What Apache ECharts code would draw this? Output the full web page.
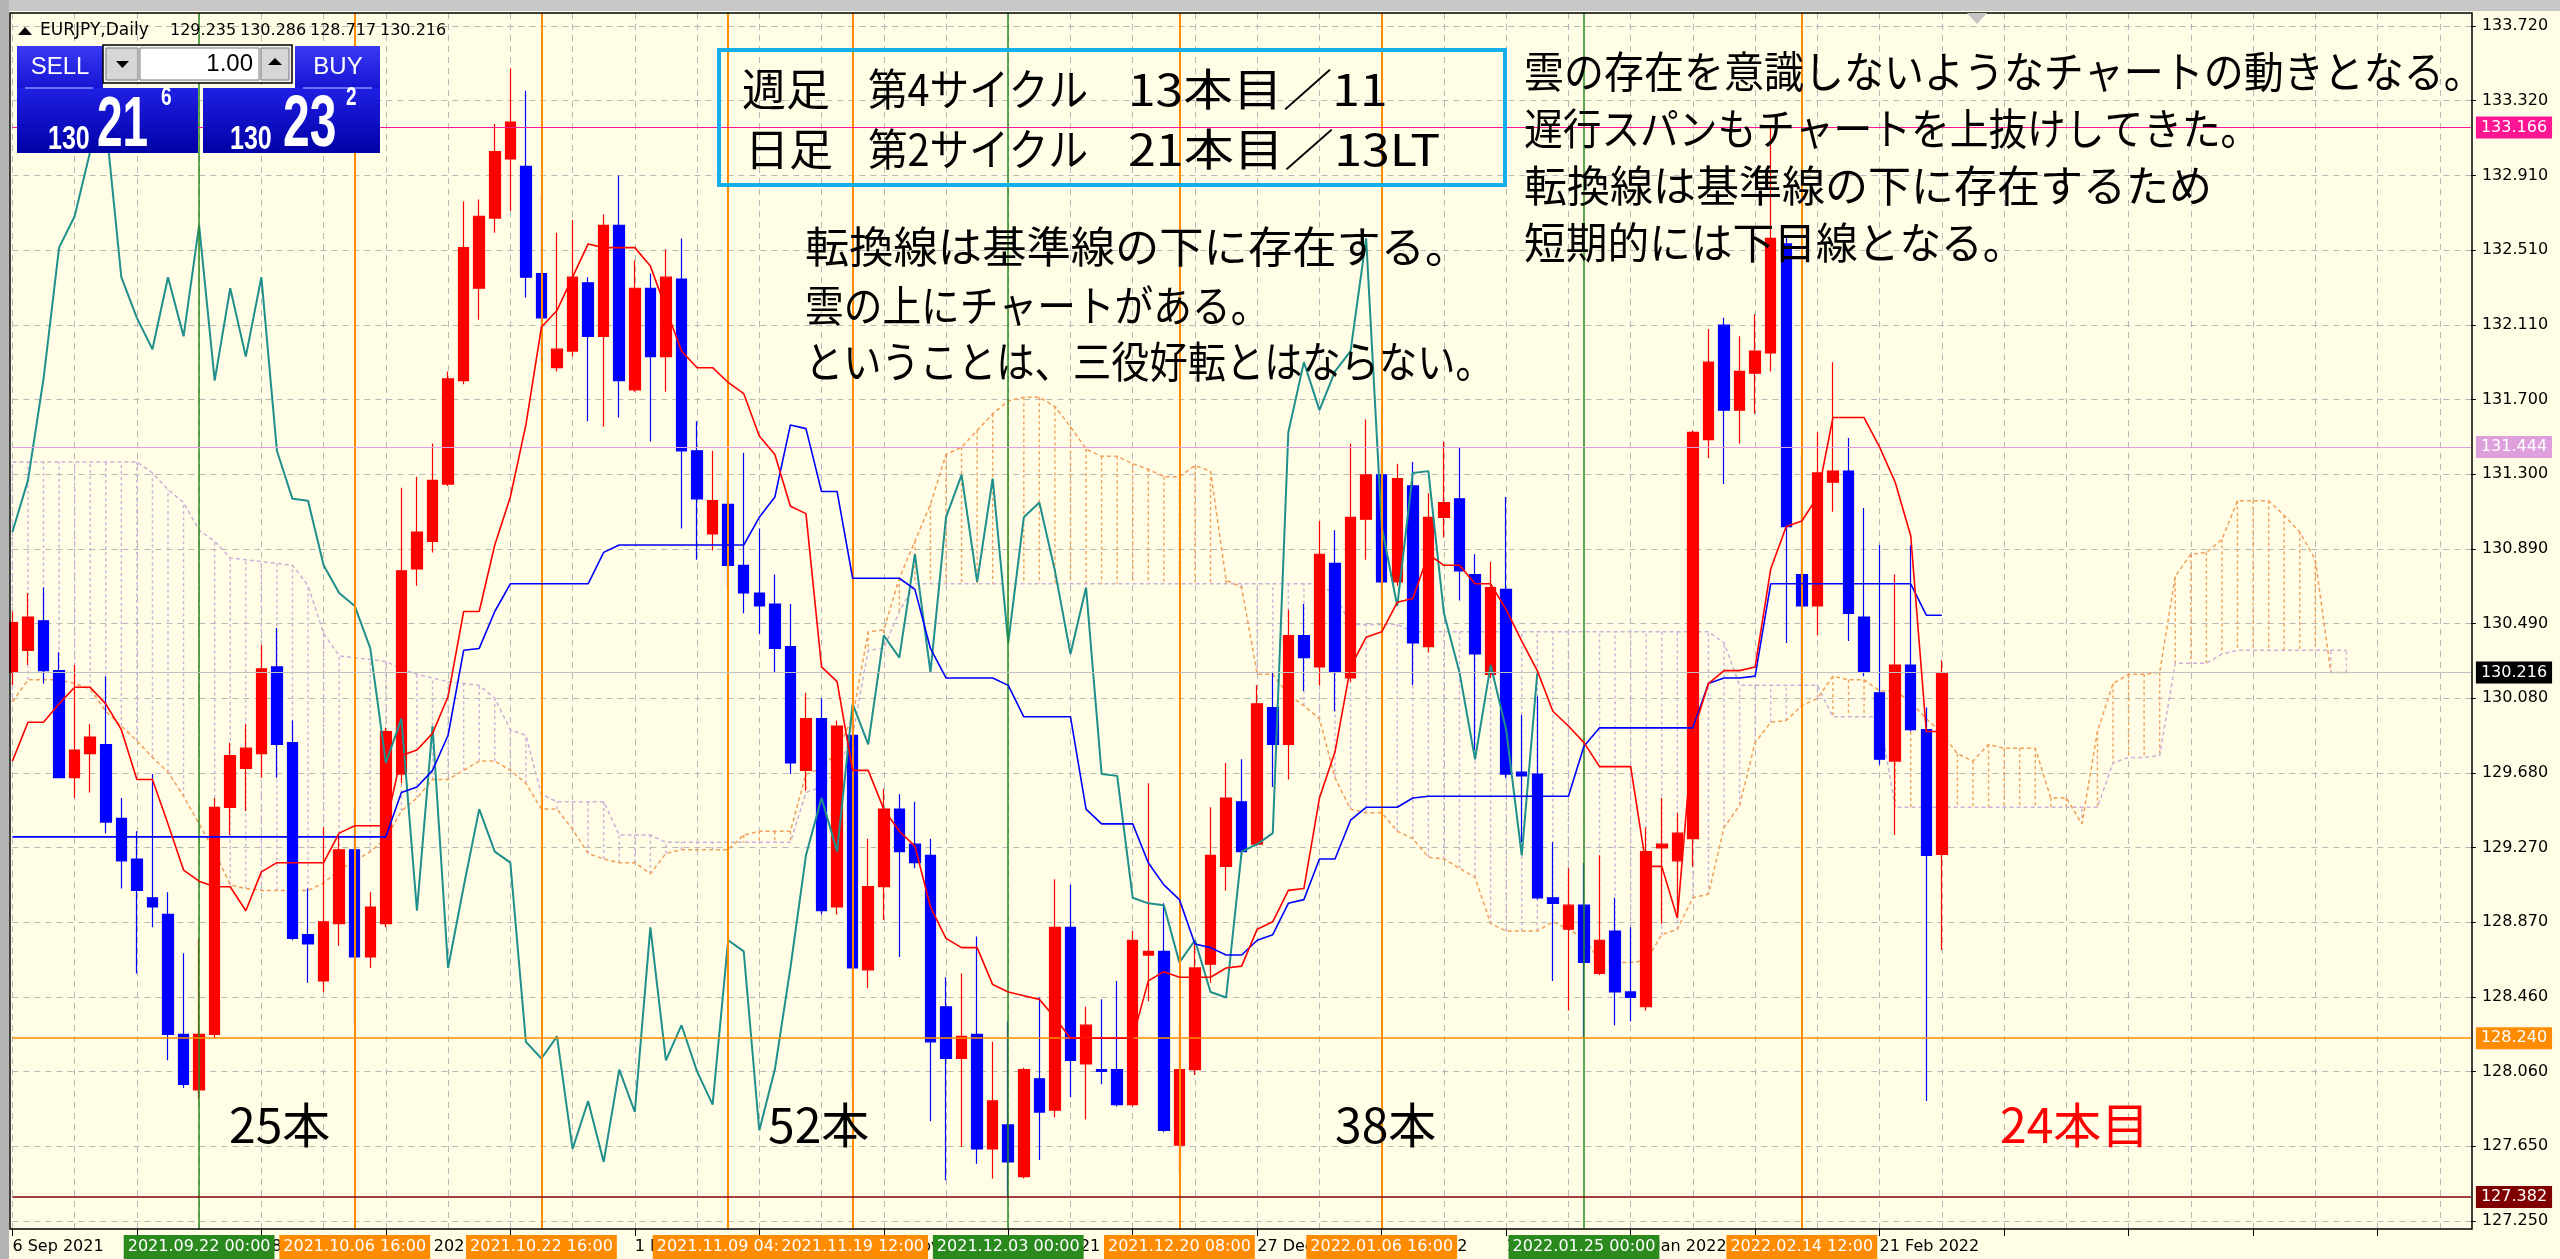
<!DOCTYPE html>
<html>
<head>
<meta charset="utf-8">
<title>EURJPY Daily</title>
<script src="https://cdn.jsdelivr.net/npm/echarts@6.0.0/dist/echarts.min.js"></script>
<style>
html,body{margin:0;padding:0;background:#FFFDE6;overflow:hidden;}
#chart{width:2560px;height:1259px;}
</style>
</head>
<body>
<div id="chart"></div>
<script>
// ---------------- data ----------------
const opens = [130.22,130.34,130.50,130.23,129.65,129.78,129.83,129.43,129.21,129.00,
128.91,128.26,127.96,128.26,129.49,129.70,129.78,130.25,129.84,128.80,
128.55,128.86,129.26,128.68,128.86,129.67,130.78,130.93,131.24,131.80,
132.30,132.68,133.00,132.96,132.38,131.87,131.96,132.33,132.04,132.64,
131.75,132.30,131.93,132.35,131.42,130.97,131.13,130.80,130.65,130.59,
130.36,129.69,129.97,128.95,129.88,128.61,129.06,129.48,129.29,129.23,
128.41,128.13,128.26,127.64,127.77,127.49,128.02,127.85,128.84,128.10,
128.07,128.07,127.88,128.69,128.71,127.66,128.07,128.64,129.17,129.52,
129.29,130.03,129.83,130.42,130.25,130.81,130.19,131.05,131.29,130.71,
131.23,130.36,131.06,131.16,130.75,130.21,130.67,129.68,129.67,129.00,
128.83,128.96,128.59,128.82,128.49,128.41,129.27,129.20,129.32,131.48,
132.10,131.64,131.84,131.95,132.54,130.75,130.58,131.25,131.31,130.52,
130.11,129.74,130.26,129.91,129.235];
const closes = [130.49,130.52,130.23,129.65,129.80,129.87,129.41,129.20,129.04,128.95,
128.26,127.99,128.26,129.49,129.77,129.81,130.24,129.83,128.78,128.75,
128.87,129.26,128.68,128.95,129.90,130.77,130.98,131.26,131.81,132.52,
132.69,133.04,133.20,132.36,132.14,131.97,132.36,132.04,132.64,131.80,
132.30,131.93,132.36,131.42,131.16,131.15,130.80,130.65,130.58,130.35,
129.73,129.97,128.93,129.93,128.62,129.06,129.48,129.25,129.19,128.22,
128.13,128.25,127.64,127.90,127.57,128.07,127.84,128.84,128.12,128.31,
128.06,127.88,128.77,128.71,127.74,128.07,128.62,129.23,129.54,129.25,
130.05,129.83,130.42,130.30,130.86,130.22,131.06,131.29,130.71,131.27,
130.38,131.06,131.14,130.77,130.32,130.68,129.67,129.66,129.00,128.97,
128.96,128.65,128.77,128.49,128.46,129.25,129.29,129.35,131.52,131.90,
131.64,131.85,131.96,132.57,131.01,130.58,131.30,131.31,130.54,130.22,
129.75,130.26,129.91,129.23,130.216];
const lows = [130.15,130.26,130.16,129.65,129.54,129.57,129.35,129.05,128.59,128.84,
128.12,127.97,127.91,128.24,129.34,129.47,129.65,129.65,128.77,128.54,
128.49,128.74,128.32,128.62,128.84,129.62,130.69,130.87,131.23,131.78,
132.13,132.60,132.72,132.25,131.90,131.85,131.93,131.58,131.55,131.60,
131.74,131.47,131.74,131.00,130.83,130.88,130.67,130.54,130.43,130.22,
129.67,129.58,128.91,128.91,127.96,128.51,128.88,128.68,129.16,127.79,
127.47,127.65,127.56,127.48,127.382,127.48,127.58,127.81,127.92,127.80,
127.99,127.87,127.87,128.44,127.73,127.51,128.04,128.54,129.04,129.22,
129.28,129.60,129.64,130.12,130.15,130.01,130.17,130.83,130.62,130.69,
130.15,130.33,130.95,130.61,129.80,130.19,129.65,129.30,128.99,128.55,
128.39,128.24,128.58,128.31,128.33,128.39,128.86,128.92,129.17,131.38,
131.24,131.46,131.62,131.85,130.38,130.03,130.42,131.09,130.39,130.20,
129.72,129.34,129.90,127.90,128.717];
const highs = [130.55,130.65,130.68,130.33,130.26,129.94,130.20,129.54,129.36,129.67,
129.03,128.70,128.78,129.54,129.84,129.94,130.37,130.46,129.96,129.05,
129.38,129.34,129.49,129.03,129.92,131.22,131.28,131.46,131.85,132.77,
132.78,133.19,133.49,133.37,132.81,132.60,132.67,132.36,132.70,132.91,
132.45,132.38,132.51,132.57,131.58,131.42,131.26,131.41,131.00,130.75,
130.59,130.11,130.08,129.96,129.99,129.32,129.59,129.56,129.52,129.32,
128.57,128.59,128.79,128.22,128.33,128.08,128.46,129.10,129.07,128.41,
128.45,128.55,128.82,129.62,128.97,128.31,128.77,129.49,129.73,129.75,
130.15,130.22,130.56,130.59,131.04,130.99,131.46,131.59,131.41,131.35,
131.36,131.19,131.47,131.44,130.86,130.82,131.17,129.99,130.09,129.30,
129.16,129.19,129.23,129.00,128.84,129.38,129.54,129.46,131.53,132.08,
132.14,132.04,132.16,133.166,132.58,131.39,131.52,131.90,131.49,131.11,
130.91,130.75,130.91,130.03,130.286];

// Ichimoku lines
const tenkan = [129.74,129.95,129.95,130.05,130.14,130.14,130.05,129.91,129.64,129.64,
129.40,129.15,129.09,129.06,129.06,128.93,129.14,129.19,129.19,129.19,
129.19,129.35,129.39,129.39,129.39,129.77,129.80,129.89,130.09,130.55,
130.55,130.91,131.17,131.56,132.09,132.18,132.36,132.54,132.52,132.52,
132.52,132.42,132.19,131.96,131.87,131.87,131.79,131.73,131.50,131.40,
131.12,131.08,130.25,130.17,129.69,129.69,129.48,129.36,129.28,128.95,
128.78,128.73,128.73,128.53,128.49,128.47,128.45,128.35,128.24,128.24,
128.24,128.24,128.24,128.55,128.60,128.57,128.57,128.57,128.62,128.63,
128.83,128.87,129.04,129.05,129.54,129.79,130.25,130.41,130.44,130.60,
130.62,130.86,130.80,130.80,130.70,130.70,130.56,130.39,130.23,130.01,
129.93,129.84,129.71,129.71,129.71,129.17,129.17,128.89,129.89,130.16,
130.23,130.23,130.25,130.78,131.01,131.04,131.17,131.60,131.60,131.60,
131.44,131.25,130.96,129.90,129.90];
const kijun = [129.33,129.33,129.33,129.33,129.33,129.33,129.33,129.33,129.33,129.33,
129.33,129.33,129.33,129.33,129.33,129.33,129.33,129.33,129.33,129.33,
129.33,129.33,129.33,129.33,129.33,129.57,129.60,129.69,129.88,130.34,
130.35,130.55,130.70,130.70,130.70,130.70,130.70,130.70,130.87,130.91,
130.91,130.91,130.91,130.91,130.91,130.91,130.91,130.91,131.06,131.17,
131.56,131.54,131.20,131.20,130.73,130.73,130.73,130.73,130.67,130.35,
130.19,130.19,130.19,130.19,130.15,129.98,129.98,129.98,129.98,129.48,
129.40,129.40,129.40,129.19,129.07,128.99,128.75,128.73,128.69,128.69,
128.77,128.80,128.97,128.99,129.21,129.21,129.42,129.49,129.49,129.49,
129.54,129.55,129.55,129.55,129.55,129.55,129.55,129.55,129.55,129.55,
129.55,129.82,129.92,129.92,129.92,129.92,129.92,129.92,129.92,130.16,
130.19,130.19,130.20,130.70,130.70,130.70,130.70,130.70,130.70,130.70,
130.70,130.70,130.70,130.53,130.53];
const senkouA = [130.06,130.18,130.18,130.18,130.16,130.13,130.01,129.93,129.85,129.76,
129.68,129.55,129.40,129.25,129.07,129.05,129.04,129.04,129.04,129.04,
129.08,129.15,129.20,129.25,129.32,129.47,129.54,129.64,129.64,129.69,
129.74,129.74,129.69,129.62,129.48,129.48,129.37,129.24,129.21,129.19,
129.19,129.13,129.24,129.26,129.26,129.26,129.26,129.34,129.36,129.36,
129.36,129.67,129.70,129.79,129.98,130.44,130.45,130.73,130.93,131.13,
131.40,131.44,131.53,131.62,131.69,131.71,131.71,131.66,131.55,131.43,
131.39,131.39,131.35,131.32,131.28,131.28,131.34,131.31,130.72,130.68,
130.21,130.21,130.10,130.04,129.97,129.65,129.48,129.46,129.46,129.36,
129.32,129.22,129.21,129.16,129.11,128.86,128.82,128.82,128.82,128.87,
128.83,128.78,128.66,128.65,128.65,128.66,128.80,128.83,129.00,129.02,
129.38,129.50,129.84,129.95,129.96,130.04,130.08,130.20,130.18,130.18,
130.12,130.12,130.06,129.97,129.89,129.78,129.74,129.83,129.81,129.81,
129.81,129.54,129.54,129.40,129.90,130.16,130.21,130.21,130.22,130.74,
130.86,130.87,130.94,131.15,131.15,131.15,131.07,130.98,130.83,130.22,
130.22];
const senkouB = [131.36,131.36,131.36,131.36,131.36,131.36,131.36,131.36,131.36,131.30,
131.21,131.14,130.99,130.93,130.84,130.83,130.82,130.81,130.80,130.69,
130.43,130.31,130.30,130.29,130.28,130.24,130.21,130.19,130.17,130.16,
130.15,130.08,129.91,129.88,129.56,129.52,129.52,129.52,129.52,129.34,
129.34,129.34,129.30,129.30,129.30,129.30,129.30,129.30,129.30,129.30,
129.30,129.57,129.60,129.69,129.88,130.34,130.35,130.55,130.70,130.70,
130.70,130.70,130.70,130.70,130.70,130.70,130.70,130.70,130.70,130.70,
130.70,130.70,130.70,130.70,130.70,130.70,130.70,130.70,130.70,130.70,
130.70,130.70,130.70,130.70,130.70,130.64,130.48,130.48,130.48,130.48,
130.44,130.44,130.44,130.44,130.44,130.44,130.44,130.44,130.44,130.44,
130.44,130.44,130.44,130.44,130.44,130.44,130.44,130.44,130.44,130.44,
130.38,130.15,130.15,130.15,130.15,130.15,130.15,129.98,129.98,129.98,
129.98,129.49,129.49,129.49,129.49,129.49,129.49,129.49,129.49,129.49,
129.49,129.49,129.49,129.49,129.49,129.73,129.76,129.76,129.77,130.27,
130.27,130.27,130.32,130.34,130.34,130.34,130.34,130.34,130.34,130.34,
130.34];
// lagging span: the closes drawn 26 bars back
const chikou = closes.slice(26);

const yTickLabels = ['127.250','127.650','128.060','128.460','128.870','129.270','129.680','130.080',
  '130.490','130.890','131.300','131.700','132.110','132.510','132.910','133.320','133.720'];
const xTickLabels = ['6 Sep 2021','16 Sep 2021','28 Sep 2021','8 Oct 2021','20 Oct 2021','1 Nov 2021',
  '11 Nov 2021','23 Nov 2021','3 Dec 2021','15 Dec 2021','27 Dec 2021','6 Jan 2022','18 Jan 2022',
  '28 Jan 2022','9 Feb 2022','21 Feb 2022'];

const vLineBars = [12, 22, 34, 46, 54, 64, 75, 88, 101, 115];
const vLineLabels = ['2021.09.22 00:00','2021.10.06 16:00','2021.10.22 16:00','2021.11.09 04:00',
  '2021.11.19 12:00','2021.12.03 00:00','2021.12.20 08:00','2022.01.06 16:00','2022.01.25 00:00','2022.02.14 12:00'];
const vLineKinds = ['g','o','o','o','o','g','o','o','g','o'];

const hLineValues = [133.166, 131.444, 130.216, 128.240, 127.382];
const hLineLabels = ['133.166','131.444','130.216','128.240','127.382'];

const quote = ['129.235','130.286','128.717','130.216'];

// time slots: trading days from 6 Sep 2021 (candles + future cloud)
const categories = [];
(function(){
  const d = new Date(Date.UTC(2021, 8, 6));
  while (categories.length < 159) {
    const w = d.getUTCDay();
    if (w !== 0 && w !== 6) categories.push(d.toISOString().slice(0, 10));
    d.setUTCDate(d.getUTCDate() + 1);
  }
})();

// ---------------- styling ----------------
const BG = '#FFFDE6';
const GRIDC = '#B8B8B8';
const UI = '"DejaVu Sans", sans-serif';
const JP = '"Noto Sans CJK JP", sans-serif';
const LS = '"Liberation Sans", sans-serif';
const Y_MIN = 127.25, Y_MAX = 133.72, Y_STEP = (Y_MAX - Y_MIN) / 16;
const vColor = {g: '#2A8A1E', o: '#FF8C00'};
const hLineColors = ['#FF1493', '#DDA0DD', '#C0C0C0', '#FF8C00', '#800000'];
const hBoxColors  = ['#FF1493', '#DDA0DD', '#000000', '#FF8C00', '#800000'];

const chart = echarts.init(document.getElementById('chart'), null, {renderer: 'canvas'});

const candleData = opens.map((o, i) => [o, closes[i], lows[i], highs[i]]);
const cloudData = senkouA.map((a, i) => [i, a, senkouB[i]]);

function blue(top, bottom) {
  return new echarts.graphic.LinearGradient(0, 0, 0, 1, [{offset: 0, color: top}, {offset: 1, color: bottom}]);
}
function txt(x, y, s, o) {
  return Object.assign({type: 'text', x: x, y: y, z: 100, silent: true,
    style: Object.assign({text: s, fill: '#000', align: 'left', verticalAlign: 'middle',
      fontSize: 15, fontFamily: UI}, o && o.style || {})},
    o && o.el || {});
}

const graphics = [
  // window chrome
  {type: 'rect', z: 99, silent: true, shape: {x: 0, y: 0, width: 2560, height: 11}, style: {fill: '#C8C8C8'}},
  {type: 'rect', z: 99, silent: true, shape: {x: 0, y: 0, width: 9, height: 1259}, style: {fill: '#B4B4B4'}},
  // plot frame
  {type: 'rect', z: 98, silent: true, shape: {x: 10, y: 13, width: 2462, height: 1216},
    style: {fill: 'rgba(0,0,0,0)', stroke: '#000', lineWidth: 1.5}},
  // shift marker
  {type: 'polygon', z: 99, silent: true, shape: {points: [[1967, 13], [1987, 13], [1977, 24]]}, style: {fill: '#C4C4C4'}},
  // header
  {type: 'polygon', z: 100, silent: true, shape: {points: [[18, 35], [32, 35], [25, 27]]}, style: {fill: '#000'}},
  txt(40, 31, 'EURJPY,Daily', {style: {fontSize: 17}}),
  txt(170, 31, quote[0], {style: {fontSize: 16}}),
  txt(240, 31, quote[1], {style: {fontSize: 16}}),
  txt(310, 31, quote[2], {style: {fontSize: 16}}),
  txt(380, 31, quote[3], {style: {fontSize: 16}}),
  // one-click trading panel
  {type: 'rect', z: 100, silent: true, shape: {x: 17, y: 46, width: 86, height: 43}, style: {fill: blue('#3A3AF4', '#1414D2')}},
  {type: 'rect', z: 100, silent: true, shape: {x: 17, y: 88, width: 181, height: 65}, style: {fill: blue('#2020E4', '#0000A6')}},
  {type: 'rect', z: 100, silent: true, shape: {x: 295, y: 46, width: 85, height: 43}, style: {fill: blue('#3A3AF4', '#1414D2')}},
  {type: 'rect', z: 100, silent: true, shape: {x: 203, y: 88, width: 177, height: 65}, style: {fill: blue('#2020E4', '#0000A6')}},
  {type: 'line', z: 101, silent: true, shape: {x1: 25, y1: 88, x2: 93, y2: 88}, style: {stroke: '#8C8CFF', lineWidth: 1.5}},
  {type: 'line', z: 101, silent: true, shape: {x1: 303, y1: 88, x2: 372, y2: 88}, style: {stroke: '#8C8CFF', lineWidth: 1.5}},
  {type: 'rect', z: 100, silent: true, shape: {x: 103, y: 45, width: 189, height: 38}, style: {fill: '#EFEFEF', stroke: '#000', lineWidth: 1.5}},
  {type: 'rect', z: 101, silent: true, shape: {x: 106, y: 48, width: 32, height: 32}, style: {fill: '#D6D6D6', stroke: '#7A7A7A'}},
  {type: 'rect', z: 101, silent: true, shape: {x: 140, y: 48, width: 119, height: 32}, style: {fill: '#FFFFFF', stroke: '#7A7A7A'}},
  {type: 'rect', z: 101, silent: true, shape: {x: 261, y: 48, width: 28, height: 32}, style: {fill: '#D6D6D6', stroke: '#7A7A7A'}},
  {type: 'polygon', z: 102, silent: true, shape: {points: [[116, 61], [129, 61], [122.5, 68]]}, style: {fill: '#000'}},
  {type: 'polygon', z: 102, silent: true, shape: {points: [[268, 65], [282, 65], [275, 58]]}, style: {fill: '#000'}},
  txt(253, 64, '1.00', {style: {align: 'right', fontSize: 24, fontFamily: LS}, el: {z: 102}}),
  txt(60, 67, 'SELL', {style: {align: 'center', fontSize: 24, fill: '#fff', fontFamily: LS}, el: {z: 102}}),
  txt(338, 67, 'BUY', {style: {align: 'center', fontSize: 24, fill: '#fff', fontFamily: LS}, el: {z: 102}}),
  txt(48, 140, '130', {style: {fontSize: 25, fill: '#fff', fontWeight: 'bold', fontFamily: LS}, el: {z: 102, scaleY: 1.3}}),
  txt(97, 126, '21', {style: {fontSize: 46, fill: '#fff', fontWeight: 'bold', fontFamily: LS}, el: {z: 102, scaleY: 1.55}}),
  txt(161, 98, '6', {style: {fontSize: 19, fill: '#fff', fontWeight: 'bold', fontFamily: LS}, el: {z: 102, scaleY: 1.4}}),
  txt(230, 140, '130', {style: {fontSize: 25, fill: '#fff', fontWeight: 'bold', fontFamily: LS}, el: {z: 102, scaleY: 1.3}}),
  txt(283, 126, '23', {style: {fontSize: 48, fill: '#fff', fontWeight: 'bold', fontFamily: LS}, el: {z: 102, scaleY: 1.5}}),
  txt(346, 98, '2', {style: {fontSize: 19, fill: '#fff', fontWeight: 'bold', fontFamily: LS}, el: {z: 102, scaleY: 1.4}}),
  // cycle box
  {type: 'rect', z: 100, silent: true, shape: {x: 719, y: 50, width: 786, height: 135},
    style: {fill: 'rgba(0,0,0,0)', stroke: '#14AEEA', lineWidth: 4}},
  txt(742, 89, '週足', {style: {fontSize: 44, fontFamily: JP}}),
  txt(868, 89, '第4サイクル', {style: {fontSize: 44, fontFamily: JP}, el: {scaleX: 0.9}}),
  txt(1128, 89, '13本目／11', {style: {fontSize: 44, fontFamily: JP}, el: {scaleX: 1.13}}),
  txt(745, 149, '日足', {style: {fontSize: 44, fontFamily: JP}}),
  txt(868, 149, '第2サイクル', {style: {fontSize: 44, fontFamily: JP}, el: {scaleX: 0.9}}),
  txt(1128, 149, '21本目／13LT', {style: {fontSize: 44, fontFamily: JP}, el: {scaleX: 1.14}}),
  // comments
  txt(805, 247, '転換線は基準線の下に存在する。', {style: {fontSize: 43, fontFamily: JP}, el: {scaleX: 1.03}}),
  txt(805, 306, '雲の上にチャートがある。', {style: {fontSize: 43, fontFamily: JP}, el: {scaleX: 0.9}}),
  txt(805, 362, 'ということは、三役好転とはならない。', {style: {fontSize: 43, fontFamily: JP}, el: {scaleX: 0.89}}),
  txt(1524, 72, '雲の存在を意識しないようなチャートの動きとなる。', {style: {fontSize: 43, fontFamily: JP}, el: {scaleX: 0.93}}),
  txt(1524, 129, '遅行スパンもチャートを上抜けしてきた。', {style: {fontSize: 43, fontFamily: JP}, el: {scaleX: 0.9}}),
  txt(1524, 186, '転換線は基準線の下に存在するため', {style: {fontSize: 43, fontFamily: JP}, el: {scaleX: 1.0}}),
  txt(1524, 243, '短期的には下目線となる。', {style: {fontSize: 43, fontFamily: JP}, el: {scaleX: 0.97}}),
  txt(229, 1125, '25本', {style: {fontSize: 48, fontFamily: JP}}),
  txt(768, 1125, '52本', {style: {fontSize: 48, fontFamily: JP}}),
  txt(1335, 1125, '38本', {style: {fontSize: 48, fontFamily: JP}}),
  txt(2000, 1125, '24本目', {style: {fontSize: 48, fontFamily: JP, fill: '#FF0000'}})
];

const option = {
  animation: false,
  backgroundColor: BG,
  tooltip: {show: false},
  grid: [
    {left: 12.4, right: 89.1, top: 26, bottom: 38, outerBoundsMode: 'none', containLabel: false},
    {left: 12.4, right: 89.1, top: 13, bottom: 30, outerBoundsMode: 'none', containLabel: false}
  ],
  xAxis: [
    {type: 'category', gridIndex: 0, data: categories, boundaryGap: false, show: false,
      axisLine: {show: false}, axisTick: {show: false}, axisLabel: {show: false}, splitLine: {show: false}},
    {type: 'category', gridIndex: 1, data: categories, boundaryGap: false,
      axisLine: {show: false},
      axisTick: {show: true, interval: 7, length: 7, inside: false, lineStyle: {color: '#000', width: 1}},
      axisLabel: {show: true, interval: 7, align: 'left', margin: 10, color: '#000', fontSize: 16, fontFamily: UI,
        formatter: function (v, i) { return (i % 8 === 0 && xTickLabels[i / 8]) ? xTickLabels[i / 8] : ''; }},
      splitLine: {show: true, interval: 3, lineStyle: {color: GRIDC, width: 1, type: [6, 5]}}}
  ],
  yAxis: [
    {type: 'value', gridIndex: 0, position: 'right', min: Y_MIN, max: Y_MAX, interval: Y_STEP, scale: true,
      axisLine: {show: false},
      axisTick: {show: true, length: 5, lineStyle: {color: '#000'}},
      axisLabel: {margin: 11, color: '#000', fontSize: 16, fontFamily: UI,
        formatter: function (v) { const k = Math.round((v - Y_MIN) / Y_STEP); return yTickLabels[k] || ''; }},
      splitLine: {show: true, lineStyle: {color: GRIDC, width: 1, type: [6, 5]}}},
    {type: 'value', gridIndex: 1, min: 0, max: 1, show: false}
  ],
  graphic: {elements: graphics},
  series: [
    {
      name: 'kumo', type: 'custom', xAxisIndex: 0, yAxisIndex: 0, z: 1, silent: true,
      data: cloudData, encode: {x: 0, y: [1, 2]},
      renderItem: function (params, api) {
        const i = api.value(0), a = api.value(1), b = api.value(2);
        const p1 = api.coord([i, a]), p2 = api.coord([i, b]);
        return {type: 'line', shape: {x1: p1[0], y1: p1[1], x2: p2[0], y2: p2[1]},
          style: {stroke: a >= b ? '#F0A05A' : '#CDB0D8', lineWidth: 1.4, lineDash: [3, 3]}};
      }
    },
    {name: 'SenkouB', type: 'line', xAxisIndex: 0, yAxisIndex: 0, data: senkouB, symbol: 'none', z: 2, silent: true,
      lineStyle: {color: '#CDB0D8', width: 1.5, type: [4, 3]}},
    {name: 'SenkouA', type: 'line', xAxisIndex: 0, yAxisIndex: 0, data: senkouA, symbol: 'none', z: 2, silent: true,
      lineStyle: {color: '#F0A05A', width: 1.5, type: [4, 3]}},
    {name: 'vlines', type: 'line', xAxisIndex: 1, yAxisIndex: 1, data: [], z: 2, silent: true,
      markLine: {silent: true, symbol: ['none', 'none'], animation: false,
        data: vLineBars.map(function (b, k) {
          const c = vColor[vLineKinds[k]];
          return {xAxis: b, lineStyle: {color: c, width: vLineKinds[k] === 'o' ? 2 : 1.5, type: 'solid'},
            label: {show: true, position: 'start', distance: 6, formatter: vLineLabels[k], color: '#fff',
              backgroundColor: c, padding: [4, 4], fontSize: 16, fontFamily: UI}};
        })}},
    {name: 'hlines', type: 'line', xAxisIndex: 0, yAxisIndex: 0, data: [], z: 2, silent: true,
      markLine: {silent: true, symbol: ['none', 'none'], animation: false,
        data: hLineValues.map(function (v, k) {
          return {yAxis: v, lineStyle: {color: hLineColors[k], width: (k >= 3) ? 1.6 : 1.2, type: 'solid'},
            label: {show: true, position: 'end', distance: 5, formatter: hLineLabels[k], color: '#fff',
              backgroundColor: hBoxColors[k], padding: [3, 5], fontSize: 16, fontFamily: UI}};
        })}},
    {name: 'EURJPY', type: 'candlestick', xAxisIndex: 0, yAxisIndex: 0, data: candleData, z: 3, silent: true,
      barWidth: 11, clip: false,
      itemStyle: {color: '#FF0000', color0: '#0000FF', borderColor: '#FF0000', borderColor0: '#0000FF', borderWidth: 1.2}},
    {name: 'Chikou', type: 'line', xAxisIndex: 0, yAxisIndex: 0, data: chikou, symbol: 'none', z: 4, silent: true,
      lineStyle: {color: '#1F8F8C', width: 2}},
    {name: 'Kijun', type: 'line', xAxisIndex: 0, yAxisIndex: 0, data: kijun, symbol: 'none', z: 5, silent: true,
      lineStyle: {color: '#0000FF', width: 1.6}},
    {name: 'Tenkan', type: 'line', xAxisIndex: 0, yAxisIndex: 0, data: tenkan, symbol: 'none', z: 5, silent: true,
      lineStyle: {color: '#FF0000', width: 1.6}}
  ]
};
chart.setOption(option);
</script>
</body>
</html>
